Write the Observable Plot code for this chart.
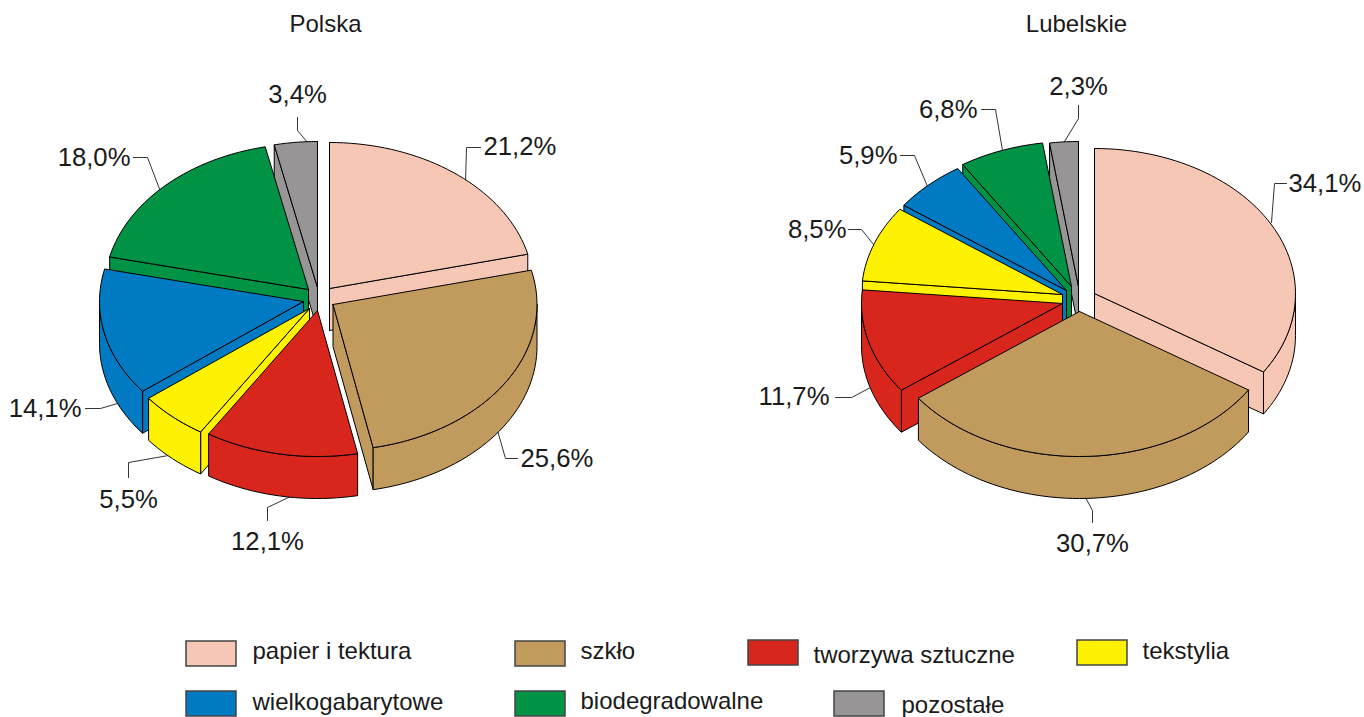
<!DOCTYPE html>
<html lang="pl">
<head>
<meta charset="utf-8">
<style>html,body{margin:0;padding:0;background:#fff;overflow:hidden}svg{display:block}</style>
<script src="https://cdn.jsdelivr.net/npm/d3@7"></script>
<script src="https://cdn.jsdelivr.net/npm/@observablehq/plot@0.6"></script>
</head>
<body>
<script>
// ---- data ----
const categories = ["papier i tektura","szkło","tworzywa sztuczne","tekstylia","wielkogabarytowe","biodegradowalne","pozostałe"];
const colors = ["#F5C7B4","#C19A5E","#D9261C","#FFF200","#007AC2","#009245","#979596"];
const polskaValues = [21.2,25.6,12.1,5.5,14.1,18.0,3.4];
const lubelskieValues = [34.1,30.7,11.7,8.5,5.9,6.8,2.3];

// ---- layout (explosion of each slice, drawing order, leader lines) ----
const pies = [
  {name:"Polska", values:polskaValues, rx:204, ry:146, depth:42,
   apex:[[329,288],[332.5,304],[317,310],[309,308],[303,301],[308,289],[317,287]],
   order:[6,5,0,4,1,3,2],
   leaders:[
     [[465,183],[466,147],[480,147]],
     [[497,430],[505,458],[517,458]],
     [[290,496],[267,507],[267,520]],
     [[168,455],[128,462],[128,477]],
     [[117,403],[100,408],[85,408]],
     [[160,191],[147,157],[133,157]],
     [[307,142],[297,130],[297,117]]],
   labels:[[483,146,"start"],[520,458,"start"],[267,541,"middle"],[128,499,"middle"],[81,408,"end"],[130,157,"end"],[297,94,"middle"]],
   title:[325,24]},
  {name:"Lubelskie", values:lubelskieValues, rx:201, ry:145, depth:42,
   apex:[[1094,293],[1079,311],[1062,303],[1062,294],[1066,290],[1071,286],[1078,286]],
   order:[6,5,4,3,0,2,1],
   leaders:[
     [[1271,222],[1274,183],[1286,183]],
     [[1085,497],[1092,510],[1092,522]],
     [[874,385],[851,397],[835,397]],
     [[873,244],[861,229],[848,229]],
     [[927,186],[914,155],[900,155]],
     [[1002,150],[995,109],[981,109]],
     [[1064,141],[1078,118],[1078,105]]],
   labels:[[1288,183,"start"],[1092,543,"middle"],[829,396,"end"],[846,229,"end"],[897,155,"end"],[977,109,"end"],[1078,86,"middle"]],
   title:[1076,24]}
];
const legendBoxes = [[186,641],[515,641],[748,640],[1077,640],[186,691],[515,691],[834,691]];
const legendText  = [[252,651],[580,651],[813,655],[1142,651],[252,702],[580,701],[901,705]];

// ---- geometry from values ----
const faces = [], leaderPts = [], labelRows = [], titleRows = [];
pies.forEach(p => {
  let cum = 0;
  const total = d3.sum(p.values);
  const slices = p.values.map((v, i) => { const a0 = cum; cum += v; return {i, a0: a0/total*360, a1: cum/total*360}; });
  p.order.forEach(i => {
    const s = slices[i], [cx, cy] = p.apex[i], cat = categories[i];
    const pt = (a, dz=0) => { const r = a*Math.PI/180; return [cx + p.rx*Math.sin(r), cy - p.ry*Math.cos(r) + dz]; };
    const arc = (a, b, dz=0) => { const n = Math.max(2, Math.ceil((b-a)/2)); return d3.range(n+1).map(k => pt(a+(b-a)*k/n, dz)); };
    const push = (name, pts) => { const id = `${p.name}-${i}-${name}`; [...pts, pts[0]].forEach(q => faces.push({id, cat, x:q[0], y:q[1]})); };
    const c = [cx, cy], cb = [cx, cy+p.depth], eps = 1e-6;
    // only the cut faces that turn towards the viewer are drawn
    if (Math.sin(s.a0*Math.PI/180) < eps) push("start", [c, pt(s.a0), pt(s.a0,p.depth), cb]);
    if (Math.sin(s.a1*Math.PI/180) > -eps) push("end", [c, pt(s.a1), pt(s.a1,p.depth), cb]);
    const w0 = Math.max(s.a0, 90), w1 = Math.min(s.a1, 270);
    if (w1 > w0) push("wall", [...arc(w0,w1), ...arc(w0,w1,p.depth).reverse()]);
    push("top", [c, ...arc(s.a0,s.a1)]);
  });
  p.leaders.forEach((l, i) => l.forEach(q => leaderPts.push({id:`${p.name}-${i}`, x:q[0], y:q[1]})));
  p.labels.forEach((l, i) => labelRows.push({x:l[0], y:l[1], anchor:l[2], text:p.values[i].toFixed(1).replace(".",",")+"%"}));
  titleRows.push({x:p.title[0], y:p.title[1], text:p.name});
});
const legendRows = categories.map((c,i) => ({cat:c, x1:legendBoxes[i][0], y1:legendBoxes[i][1], tx:legendText[i][0], ty:legendText[i][1]}));

const labelMark = a => Plot.text(labelRows.filter(d => d.anchor === a), {x:"x", y:"y", text:"text", textAnchor:a, fontSize:25.7, fill:"#1a1a1a"});

const chart = Plot.plot({
  width:1364, height:717,
  marginTop:0, marginRight:0, marginBottom:0, marginLeft:0,
  x:{domain:[0,1364], range:[0,1364], axis:null},
  y:{domain:[0,717], range:[0,717], axis:null},
  color:{domain:categories, range:colors},
  style:{fontFamily:"'Liberation Sans', Arial, sans-serif", background:"#fff"},
  marks:[
    Plot.line(leaderPts, {x:"x", y:"y", z:"id", stroke:"#333", strokeWidth:1}),
    Plot.line(faces, {x:"x", y:"y", z:"id", fill:"cat", stroke:"#000", strokeWidth:1, strokeLinejoin:"miter"}),
    labelMark("start"), labelMark("middle"), labelMark("end"),
    Plot.text(titleRows, {x:"x", y:"y", text:"text", fontSize:24, fill:"#1a1a1a"}),
    Plot.rect(legendRows, {x1:"x1", x2:d=>d.x1+50, y1:"y1", y2:d=>d.y1+25, fill:"cat", stroke:"#444", strokeWidth:1.5}),
    Plot.text(legendRows, {x:"tx", y:"ty", text:"cat", textAnchor:"start", fontSize:24, fill:"#1a1a1a"})
  ]
});
document.body.appendChild(chart);
</script>
</body>
</html>
